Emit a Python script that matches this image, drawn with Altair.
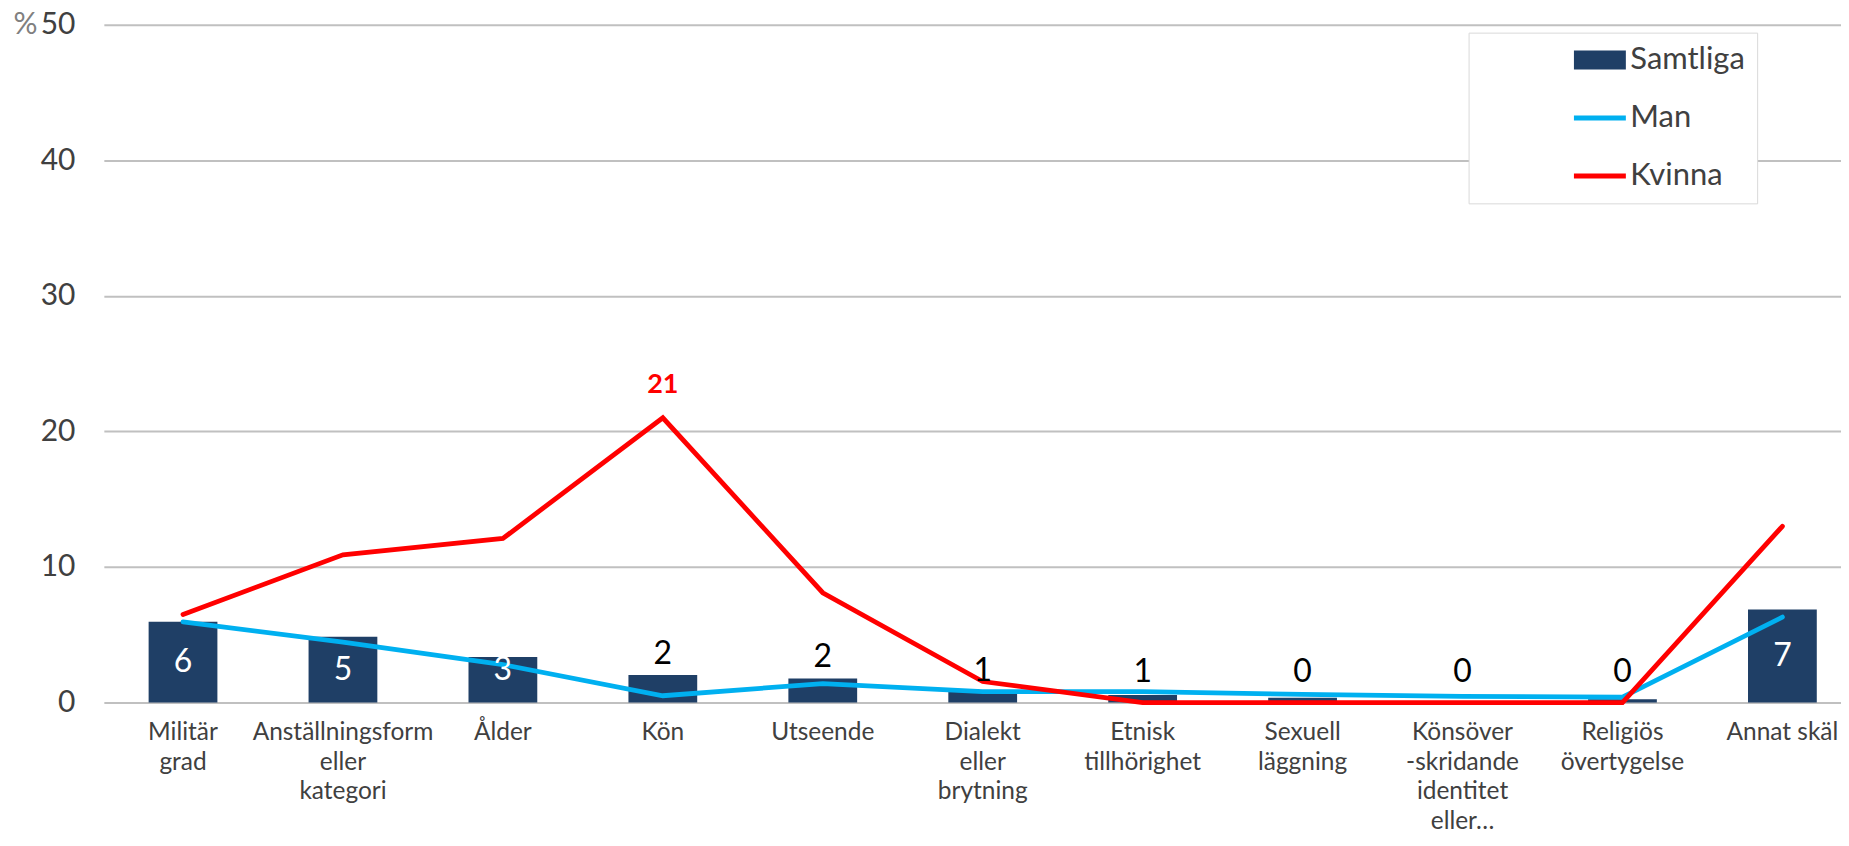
import altair as alt
import pandas as pd

categories = [
    "Militär\ngrad",
    "Anställningsform\neller\nkategori",
    "Ålder",
    "Kön",
    "Utseende",
    "Dialekt\neller\nbrytning",
    "Etnisk\ntillhörighet",
    "Sexuell\nläggning",
    "Könsöver\n-skridande\nidentitet\neller…",
    "Religiös\növertygelse",
    "Annat skäl",
]
samtliga = [5.95, 4.85, 3.36, 2.03, 1.78, 0.8, 0.55, 0.35, 0.1, 0.25, 6.86]
man = [5.95, 4.45, 2.8, 0.5, 1.4, 0.8, 0.8, 0.6, 0.45, 0.4, 6.3]
kvinna = [6.5, 10.9, 12.1, 21.0, 8.1, 1.55, 0.0, 0.0, 0.0, 0.0, 13.0]
series_names = ["Samtliga", "Man", "Kvinna"]
series_colors = ["#1F3F66", "#00B0F0", "#FF0000"]
y_ticks = [0, 10, 20, 30, 40, 50]

rows = []
for s, vals in zip(series_names, [samtliga, man, kvinna]):
    for i, (c, v) in enumerate(zip(categories, vals)):
        rows.append({"cat": c, "idx": i, "series": s, "v": v})
df = pd.DataFrame(rows)

FONT = "Lato"
TXT = "#404040"

xenc = alt.X(
    "cat:N",
    sort=categories,
    scale=alt.Scale(range=[0, 1760.6], paddingInner=0.57, paddingOuter=0.28),
    axis=alt.Axis(
        title=None, labelAngle=0, labelExpr="split(datum.label, '\\n')",
        labelFont=FONT, labelFontSize=24.5, labelLineHeight=29.6, labelColor=TXT,
        labelPadding=18, ticks=False, tickSize=0, domain=False, grid=False,
        labelLimit=500, labelBaseline="top",
    ),
)

yaxis = alt.Axis(
    values=y_ticks, title="%", titleAngle=0, titleX=-79, titleY=0,
    titleAlign="center", titleBaseline="middle", titleFont=FONT,
    titleFontSize=30, titleFontWeight="normal", titleColor="#808080",
    labelFont=FONT, labelFontSize=30, labelColor=TXT, labelPadding=29,
    ticks=False, tickSize=0, domain=False, gridColor="#c0c0c0", gridWidth=2,
)
yscale = alt.Scale(domain=[0, 50], nice=False, zero=True)

legend = alt.Legend(
    title=None, orient="none", legendX=1367, legendY=8, direction="vertical",
    labelFont=FONT, labelFontSize=31, labelColor=TXT, labelOffset=15,
    labelExpr="datum.label + '\u2003\u2003\u2003'", labelLimit=400,
    symbolType="stroke", symbolSize=2704,
    symbolStrokeWidth={"expr": "datum.label === '%s' ? 19 : 5" % series_names[0]},
    symbolStrokeColor={"expr": "scale('color', datum.value)"},
    symbolOffset=104, gridAlign="all",
    rowPadding=3, padding=12, strokeColor="#d9d9d9", fillColor="white",
)
color = alt.Color("series:N", scale=alt.Scale(domain=series_names, range=series_colors), legend=legend)

base = alt.Chart(df)

bars = base.transform_filter("datum.series === 'Samtliga'").mark_bar().encode(
    x=xenc, y=alt.Y("v:Q", scale=yscale, axis=yaxis), color=color
)

lines = base.transform_filter("datum.series !== 'Samtliga'").mark_line(
    strokeWidth=4.8, strokeCap="round"
).encode(
    x=xenc, y=alt.Y("v:Q", scale=yscale, axis=yaxis), color=color, order="idx:Q"
)

white_lbl = base.transform_filter(
    "datum.series === 'Samtliga' && datum.v >= 3"
).transform_calculate(ly="max(datum.v / 2, 2.4)").mark_text(
    font=FONT, fontSize=32, color="white", baseline="middle", align="center"
).encode(
    x=xenc, y=alt.Y("ly:Q", scale=yscale, axis=yaxis), text=alt.Text("v:Q", format=".0f")
)

black_lbl = base.transform_filter(
    "datum.series === 'Samtliga' && datum.v < 3"
).transform_calculate(ly="max(datum.v, 0.7)").mark_text(
    font=FONT, fontSize=32, color="black", baseline="middle", align="center", dy=-21
).encode(
    x=xenc, y=alt.Y("ly:Q", scale=yscale, axis=yaxis), text=alt.Text("v:Q", format=".0f")
)

peak_lbl = base.transform_filter("datum.series === 'Kvinna'").transform_joinaggregate(
    vmax="max(v)"
).transform_filter("datum.v === datum.vmax").mark_text(
    font=FONT, fontSize=27, fontWeight="bold", color="#FF0000",
    baseline="middle", align="center", dy=-33
).encode(
    x=xenc, y=alt.Y("v:Q", scale=yscale, axis=yaxis), text=alt.Text("v:Q", format=".0f")
)

chart = alt.layer(bars, lines, white_lbl, black_lbl, peak_lbl).properties(
    width=1740, height=679,
    autosize=alt.AutoSizeParams(type="none"),
    padding={"left": 96, "top": 16, "right": 0, "bottom": 131},
).configure_view(stroke=None)

chart.save("out.html", embed_options={"renderer": "svg", "actions": False})
